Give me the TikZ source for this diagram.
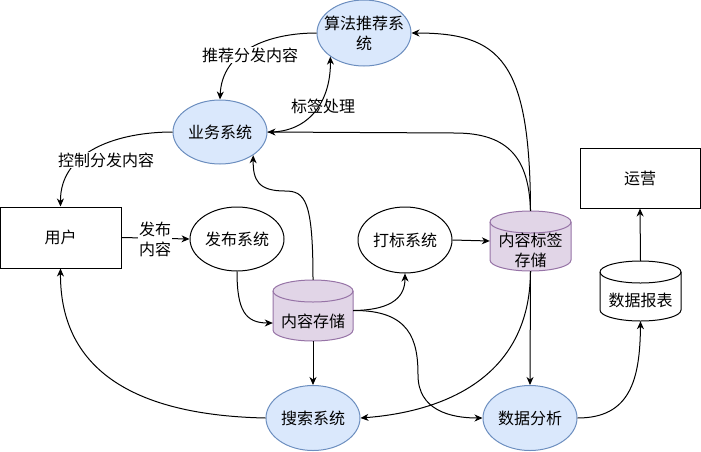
\documentclass[tikz,border=0pt]{standalone}
\usepackage{fontspec}
\newfontfamily\cjk{Noto Sans CJK SC}
\usetikzlibrary{shapes.geometric,arrows.meta,calc}
\definecolor{bluef}{HTML}{DAE8FC}
\definecolor{blued}{HTML}{6C8EBF}
\definecolor{purf}{HTML}{E1D5E7}
\definecolor{purd}{HTML}{9673A6}
\newcommand{\txt}{\cjk\fontsize{16}{20}\selectfont}
\tikzset{
  ell/.style={ellipse, draw, line width=1pt, minimum width=94pt, minimum height=65pt, inner sep=0pt, align=center, font=\txt},
  bell/.style={ell, fill=bluef, draw=blued},
  boxnode/.style={rectangle, draw, line width=1pt, minimum width=121pt, minimum height=61pt, font=\txt},
  conn/.style={line width=1pt, -{Stealth[length=8pt,width=7pt,inset=2.5pt]}},
  lbl/.style={font=\txt, fill=white, inner sep=1pt, align=center},
  plainlbl/.style={font=\txt, inner sep=1pt, align=center},
  cyltext/.style={font=\txt, inner sep=0pt, align=center},
}
% name, cx, cy, w, h, fill, draw
\newcommand{\mycyl}[7]{%
  \pgfmathsetmacro\cylL{#2-#4/2}%
  \pgfmathsetmacro\cylR{#2+#4/2}%
  \pgfmathsetmacro\cylT{#3+#5/2-11}%
  \pgfmathsetmacro\cylB{#3-#5/2+11}%
  \filldraw[fill=#6,draw=#7,line width=1pt] (\cylL,\cylT) -- (\cylL,\cylB)
     arc[start angle=180,end angle=360,x radius=#4/2,y radius=11] -- (\cylR,\cylT)
     arc[start angle=0,end angle=180,x radius=#4/2,y radius=11] -- cycle;
  \draw[draw=#7,line width=1pt] (\cylL,\cylT) arc[start angle=180,end angle=360,x radius=#4/2,y radius=11];
  \node[minimum width=#4pt, minimum height=#5pt, inner sep=0pt] (#1) at (#2,#3) {};
}
\begin{document}
\begin{tikzpicture}[x=1pt,y=1pt]
\useasboundingbox (0,0) rectangle (701,-451);

% nodes
\node[bell, inner xsep=-8pt, minimum height=66pt] (alg) at (364,-33) {算法推荐系\\统};
\node[bell, minimum height=64pt] (biz) at (220,-132) {业务系统};
\node[boxnode] (user) at (60.5,-237.5) {用户};
\node[ell, minimum height=64pt] (pub) at (237,-239) {发布系统};
\node[ell, minimum height=66pt] (tag) at (405,-240) {打标系统};
\node[bell] (srch) at (313,-418) {搜索系统};
\node[bell] (ana) at (530,-418) {数据分析};
\node[boxnode, minimum width=120pt, minimum height=60pt] (ops) at (640,-178) {运营};

\mycyl{cs}{313}{-310.5}{80}{61}{purf}{purd}
\node[cyltext] (cst) at (313,-321) {内容存储};
\mycyl{cts}{530.5}{-241}{81}{60}{purf}{purd}
\node[cyltext] (ctst) at (530.5,-250) {内容标签\\存储};
\mycyl{rpt}{640.5}{-291}{81}{60}{white}{black}
\node[cyltext] (rptt) at (640.5,-300) {数据报表};

% connectors
\draw[conn] (alg.west) .. controls (270,-33) and (222,-50) .. (biz.north);
\draw[conn] (biz.east) .. controls (310,-133) and (331,-100) .. (alg.215);
\draw[conn] (biz.west) .. controls (120,-132) and (60,-150) .. (user.north);
\draw[conn] (user.east) -- (pub.west);
\draw[conn] (pub.south) .. controls (237,-310) and (245,-323) .. ($(cs.west)+(0,-12.5)$);
\draw[conn] (cs.north) .. controls (313,-200) and (305,-191) .. (285,-191)
   .. controls (258,-191) and (253,-180) .. (biz.-35);
\draw[conn] (cs.east) .. controls (395,-310) and (405,-295) .. (tag.south);
\draw[conn] (cs.east) .. controls (410,-310) and (418,-340) .. (418,-375)
   .. controls (418,-410) and (450,-418) .. (ana.west);
\draw[conn] (cs.south) -- (srch.north);
\draw[conn] (tag.east) -- (cts.west);
\draw[conn] (cts.north) .. controls (530,-60) and (500,-33) .. (alg.east);
\draw[conn] (cts.north) .. controls (529,-160) and (510,-133) .. (455,-133) -- (biz.east);
\draw[conn] (cts.south) .. controls (530,-380) and (440,-412) .. (srch.east);
\draw[conn] (cts.south) -- (ana.north);
\draw[conn] (srch.west) .. controls (120,-415) and (60,-360) .. (user.south);
\draw[conn] (ana.east) .. controls (630,-418) and (640,-380) .. (rpt.south);
\draw[conn] (rpt.north) -- (ops.south);

% edge labels
\node[lbl] (l1) at (250,-55) {推荐分发内容};
\node[plainlbl] (l2) at (323,-106) {标签处理};
\node[lbl] (l3) at (106,-160) {控制分发内容};
\node[lbl] (l4) at (155,-239) {发布\\内容};
\end{tikzpicture}
\end{document}
